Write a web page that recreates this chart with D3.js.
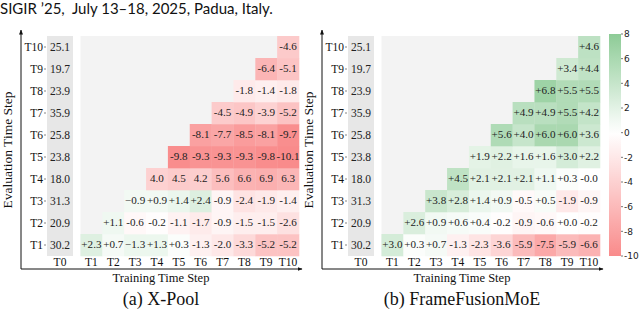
<!DOCTYPE html>
<html><head><meta charset="utf-8">
<script src="https://cdn.jsdelivr.net/npm/d3@7"></script>
<style>html,body{margin:0;padding:0;background:#fff;}svg{display:block;}</style>
</head><body>
<svg id="chart" width="640" height="312"></svg>
<script>
// ---------- DATA ----------
const trainSteps = ["T1","T2","T3","T4","T5","T6","T7","T8","T9","T10"];
const evalSteps  = ["T1","T2","T3","T4","T5","T6","T7","T8","T9","T10"];
const baseLabel = "T0";
// T0 baseline score per evaluation step (T1..T10)
const baselineT0 = [30.2, 20.9, 31.3, 18.0, 23.8, 25.8, 35.9, 23.9, 19.7, 25.1];

// X-Pool: row i (eval Ti) holds values for train steps Ti..T10
const xpoolValues = [
  [2.3, 0.7, 1.3, 1.3, 0.3, -1.3, -2.0, -3.3, -5.2, -5.2],
  [1.1, -0.6, -0.2, -1.1, -1.7, -0.9, -1.5, -1.5, -2.6],
  [0.9, 0.9, 1.4, 2.4, -0.9, -2.4, -1.9, -1.4],
  [-4.0, -4.5, -4.2, -5.6, -6.6, -6.9, -6.3],
  [-9.8, -9.3, -9.3, -9.3, -9.8, -10.1],
  [-8.1, -7.7, -8.5, -8.1, -9.7],
  [-4.5, -4.9, -3.9, -5.2],
  [-1.8, -1.4, -1.8],
  [-6.4, -5.1],
  [-4.6]
];
const xpoolLabels = [
  ["+2.3","+0.7","\u22121.3","+1.3","+0.3","-1.3","-2.0","-3.3","-5.2","-5.2"],
  ["+1.1","-0.6","-0.2","-1.1","-1.7","-0.9","-1.5","-1.5","-2.6"],
  ["\u22120.9","+0.9","+1.4","+2.4","-0.9","-2.4","-1.9","-1.4"],
  ["4.0","4.5","4.2","5.6","6.6","6.9","6.3"],
  ["-9.8","-9.3","-9.3","-9.3","-9.8","-10.1"],
  ["-8.1","-7.7","-8.5","-8.1","-9.7"],
  ["-4.5","-4.9","-3.9","-5.2"],
  ["-1.8","-1.4","-1.8"],
  ["-6.4","-5.1"],
  ["-4.6"]
];

// FrameFusionMoE
const moeValues = [
  [3.0, 0.3, 0.7, -1.3, -2.3, -3.6, -5.9, -7.5, -5.9, -6.6],
  [2.6, 0.9, 0.6, 0.4, -0.2, -0.9, -0.6, 0.0, -0.2],
  [3.8, 2.8, 1.4, 0.9, -0.5, 0.5, -1.9, -0.9],
  [4.5, 2.1, 2.1, 2.1, 1.1, 0.3, -0.0],
  [1.9, 2.2, 1.6, 1.6, 3.0, 2.2],
  [5.6, 4.0, 6.0, 6.0, 3.6],
  [4.9, 4.9, 5.5, 4.2],
  [6.8, 5.5, 5.5],
  [3.4, 4.4],
  [4.6]
];
const moeLabels = [
  ["+3.0","+0.3","+0.7","-1.3","-2.3","-3.6","-5.9","-7.5","-5.9","-6.6"],
  ["+2.6","+0.9","+0.6","+0.4","-0.2","-0.9","-0.6","+0.0","-0.2"],
  ["+3.8","+2.8","+1.4","+0.9","-0.5","+0.5","-1.9","-0.9"],
  ["+4.5","+2.1","+2.1","+2.1","+1.1","+0.3","-0.0"],
  ["+1.9","+2.2","+1.6","+1.6","+3.0","+2.2"],
  ["+5.6","+4.0","+6.0","+6.0","+3.6"],
  ["+4.9","+4.9","+5.5","+4.2"],
  ["+6.8","+5.5","+5.5"],
  ["+3.4","+4.4"],
  ["+4.6"]
];

const colorbarTicks = [8, 6, 4, 2, 0, -2, -4, -6, -8, -10];
const captions = ["(a) X-Pool", "(b) FrameFusionMoE"];
const xTitle = "Training Time Step";
const yTitle = "Evaluation Time Step";
const header = "SIGIR \u201925,  July 13\u201318, 2025, Padua, Italy.";

// ---------- DRAW ----------
const svg = d3.select("#chart");
const SERIF = "'Liberation Serif', 'DejaVu Serif', serif";
const color = d3.scaleLinear().domain([-10, 0, 8])
  .range(["#f98b8b", "#ffffff", "#8dcb96"]).clamp(true);

svg.append("text").attr("x", 0).attr("y", 14)
  .attr("font-family", "Lato, 'Open Sans', sans-serif").attr("font-size", 15)
  .attr("fill", "#111").style("white-space", "pre").text(header);

const defs = svg.append("defs");
defs.append("marker").attr("id", "arr").attr("viewBox", "0 0 10 10")
  .attr("refX", 9).attr("refY", 5).attr("markerWidth", 5).attr("markerHeight", 5)
  .attr("orient", "auto")
  .append("path").attr("d", "M0,1 L10,5 L0,9 z").attr("fill", "#111");

const gridTop = 36, gridBottom = 256;
const y = d3.scaleBand().domain(evalSteps.slice().reverse()).range([gridTop, gridBottom]);

function panel(offset, values, labels, caption) {
  const g = svg.append("g").attr("transform", `translate(${offset},0)`);
  const x = d3.scaleBand().domain(trainSteps).range([80.5, 299]);
  const x0 = d3.scaleBand().domain([baseLabel]).range([47, 73]);

  // backgrounds
  g.append("rect").attr("x", x.range()[0]).attr("y", gridTop)
    .attr("width", x.range()[1] - x.range()[0]).attr("height", gridBottom - gridTop)
    .attr("fill", "#f3f3f3");
  g.append("rect").attr("x", x0.range()[0]).attr("y", gridTop)
    .attr("width", x0.bandwidth()).attr("height", gridBottom - gridTop)
    .attr("fill", "#e7e7e7");

  // cells
  const cells = [];
  values.forEach((row, i) => {
    row.forEach((v, k) => {
      cells.push({ev: evalSteps[i], tr: trainSteps[i + k], v, label: labels[i][k]});
    });
  });
  g.selectAll("rect.cell").data(cells).join("rect").attr("class", "cell")
    .attr("x", d => x(d.tr)).attr("y", d => y(d.ev))
    .attr("width", x.bandwidth() + 0.3).attr("height", y.bandwidth() + 0.3)
    .attr("fill", d => color(d.v));
  g.selectAll("text.cell").data(cells).join("text").attr("class", "cell")
    .attr("transform", d => `translate(${x(d.tr) + x.bandwidth() / 2},${y(d.ev) + y.bandwidth() / 2 + 3.3}) scale(1.17,1)`)
    .attr("text-anchor", "middle").attr("font-family", SERIF).attr("font-size", 9.5)
    .attr("fill", "#222").text(d => d.label);

  // T0 column values
  g.selectAll("text.base").data(baselineT0).join("text").attr("class", "base")
    .attr("x", x0(baseLabel) + x0.bandwidth() / 2)
    .attr("y", (d, i) => y(evalSteps[i]) + y.bandwidth() / 2 + 4)
    .attr("text-anchor", "middle").attr("font-family", SERIF).attr("font-size", 11.5)
    .attr("fill", "#222").text(d => d.toFixed(1));

  // y tick labels
  g.selectAll("text.ylab").data(evalSteps).join("text").attr("class", "ylab")
    .attr("x", 43).attr("y", d => y(d) + y.bandwidth() / 2 + 4)
    .attr("text-anchor", "end").attr("font-family", SERIF).attr("font-size", 11.5)
    .attr("fill", "#111").text(d => d);
  g.selectAll("line.ytick").data(evalSteps).join("line").attr("class", "ytick")
    .attr("x1", 44).attr("x2", 46)
    .attr("y1", d => y(d) + y.bandwidth() / 2).attr("y2", d => y(d) + y.bandwidth() / 2)
    .attr("stroke", "#666").attr("stroke-width", 0.8);

  // x tick labels
  g.selectAll("text.xlab").data(trainSteps).join("text").attr("class", "xlab")
    .attr("x", d => x(d) + x.bandwidth() / 2).attr("y", 266)
    .attr("text-anchor", "middle").attr("font-family", SERIF).attr("font-size", 11.5)
    .attr("fill", "#111").text(d => d);
  g.append("text").attr("x", x0(baseLabel) + x0.bandwidth() / 2).attr("y", 266)
    .attr("text-anchor", "middle").attr("font-family", SERIF).attr("font-size", 11.5)
    .attr("fill", "#111").text(baseLabel);

  // axes arrows
  g.append("line").attr("x1", 21).attr("y1", 269).attr("x2", 21).attr("y2", 30)
    .attr("stroke", "#111").attr("stroke-width", 1).attr("marker-end", "url(#arr)");
  g.append("line").attr("x1", 21).attr("y1", 269).attr("x2", 302).attr("y2", 269)
    .attr("stroke", "#111").attr("stroke-width", 1).attr("marker-end", "url(#arr)");

  // titles
  g.append("text").attr("x", 161).attr("y", 282).attr("text-anchor", "middle")
    .attr("font-family", SERIF).attr("font-size", 12.5).attr("fill", "#111").text(xTitle);
  g.append("text").attr("transform", "translate(12,150) rotate(-90)").attr("text-anchor", "middle")
    .attr("font-family", SERIF).attr("font-size", 13.5).attr("fill", "#111").text(yTitle);
  g.append("text").attr("x", 161).attr("y", 305).attr("text-anchor", "middle")
    .attr("font-family", SERIF).attr("font-size", 18).attr("fill", "#111").text(caption);
}

panel(0, xpoolValues, xpoolLabels, captions[0]);
panel(301, moeValues, moeLabels, captions[1]);

// colorbar
const cb = d3.scaleLinear().domain([8, -10]).range([34, 256]);
const grad = defs.append("linearGradient").attr("id", "cbg")
  .attr("x1", 0).attr("y1", 0).attr("x2", 0).attr("y2", 1);
d3.range(0, 1.0001, 0.05).forEach(t => {
  grad.append("stop").attr("offset", t).attr("stop-color", color(8 - 18 * t));
});
svg.append("rect").attr("x", 609).attr("y", cb(8)).attr("width", 12)
  .attr("height", cb(-10) - cb(8)).attr("fill", "url(#cbg)");
const cbAxis = svg.append("g");
cbAxis.selectAll("line").data(colorbarTicks).join("line")
  .attr("x1", 621).attr("x2", 623).attr("y1", d => cb(d)).attr("y2", d => cb(d))
  .attr("stroke", "#555").attr("stroke-width", 0.8);
cbAxis.selectAll("text").data(colorbarTicks).join("text")
  .attr("x", 624).attr("y", d => cb(d) + 3.3)
  .attr("font-family", "'DejaVu Sans', sans-serif").attr("font-size", 9)
  .attr("fill", "#222").text(d => d);
</script>
</body></html>
